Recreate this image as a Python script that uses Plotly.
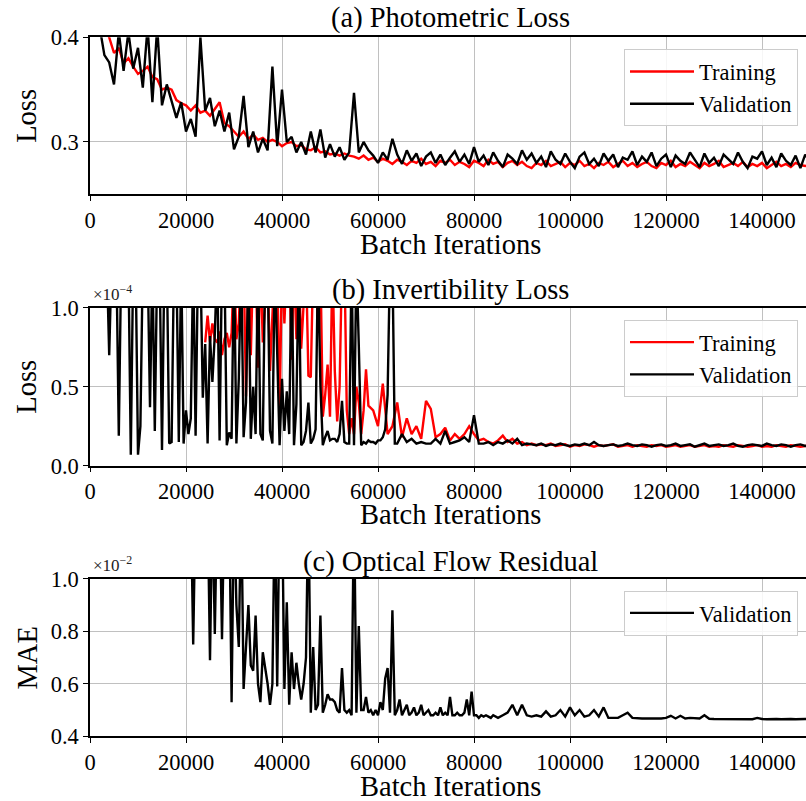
import plotly.graph_objects as go

# ---------------- data ----------------
STEP = 1000
ITER_TICKS = [0, 20000, 40000, 60000, 80000, 100000, 120000, 140000]
ITER_TICK_TEXT = [str(v) for v in ITER_TICKS]

# (a) Photometric loss
photo_val_start = 2000
photo_val = [
    0.41, 0.383, 0.376, 0.355, 0.405, 0.368, 0.405, 0.37, 0.39, 0.352,
    0.41, 0.338, 0.41, 0.335, 0.355, 0.34, 0.323, 0.338, 0.31, 0.322,
    0.305, 0.40, 0.33, 0.342, 0.315, 0.33, 0.31, 0.328, 0.293, 0.305,
    0.344, 0.295, 0.31, 0.29, 0.303, 0.292, 0.372, 0.296, 0.35, 0.30,
    0.305, 0.29, 0.30, 0.288, 0.31, 0.29, 0.312, 0.285, 0.298, 0.286,
    0.295, 0.283, 0.29, 0.347, 0.29, 0.30, 0.292, 0.287, 0.28, 0.29,
    0.283, 0.303,
    0.288, 0.279, 0.292, 0.282, 0.289, 0.277, 0.286, 0.29, 0.28, 0.288,
    0.278, 0.285, 0.291, 0.281, 0.288, 0.279, 0.295, 0.281, 0.287, 0.278,
    0.29, 0.282, 0.276, 0.288, 0.284, 0.279, 0.292, 0.283, 0.289, 0.28,
    0.286, 0.276, 0.291, 0.283, 0.279, 0.289, 0.281, 0.275, 0.286, 0.29,
    0.279, 0.284, 0.277, 0.289, 0.282, 0.288, 0.276, 0.285, 0.283, 0.291,
    0.278, 0.286, 0.281, 0.29, 0.277, 0.284, 0.288, 0.276, 0.287, 0.282,
    0.279, 0.29, 0.283, 0.276, 0.289, 0.28, 0.285, 0.277, 0.288, 0.283,
    0.279, 0.29, 0.281, 0.275, 0.286, 0.284, 0.291, 0.278, 0.285, 0.276,
    0.289, 0.282, 0.278, 0.287, 0.275, 0.288, 0.281,
]
photo_train_start = 3000
photo_train = [
    0.41, 0.40, 0.385, 0.39, 0.375, 0.38, 0.372, 0.365, 0.368, 0.372,
    0.362, 0.36, 0.35, 0.352, 0.35, 0.34, 0.337, 0.335, 0.33, 0.335,
    0.328, 0.33, 0.325, 0.332, 0.338, 0.318, 0.315, 0.31, 0.305, 0.31,
    0.303, 0.307, 0.302, 0.304, 0.3, 0.302, 0.3, 0.296, 0.299, 0.3,
    0.296, 0.297, 0.293, 0.292, 0.295, 0.29, 0.291, 0.288, 0.289, 0.287,
    0.289, 0.287, 0.286,
    0.284, 0.287, 0.283, 0.285, 0.281, 0.284, 0.282, 0.279, 0.283, 0.281,
    0.278, 0.282, 0.28, 0.284, 0.279, 0.281, 0.277, 0.282, 0.28, 0.283,
    0.278, 0.281, 0.279, 0.276, 0.282, 0.28, 0.277, 0.283, 0.279, 0.281,
    0.276, 0.28, 0.282, 0.278, 0.281, 0.277, 0.275, 0.28, 0.278, 0.282,
    0.277, 0.279, 0.281, 0.276, 0.28, 0.278, 0.282, 0.277, 0.279, 0.275,
    0.28, 0.278, 0.281, 0.276, 0.279, 0.282, 0.277, 0.28, 0.276, 0.279,
    0.281, 0.277, 0.275, 0.28, 0.278, 0.282, 0.276, 0.279, 0.277, 0.281,
    0.278, 0.275, 0.28, 0.277, 0.279, 0.282, 0.276, 0.278, 0.28, 0.277,
    0.281, 0.276, 0.279, 0.277, 0.28, 0.275, 0.278, 0.281, 0.277, 0.279,
    0.276, 0.28, 0.278, 0.277, 0.279,
]

# (b) Invertibility loss (x 1e-4): dense early part every 500, then every 1000
inv_val_early_start, inv_val_early_step = 3500, 500
inv_val_early = [
    1.3, 0.70, 1.3, 1.3, 1.3, 0.19, 1.3, 1.3, 1.3, 1.3,      # 3500-8000
    0.07, 1.3, 1.3, 0.07, 0.25, 1.3, 1.3, 1.3, 0.37, 1.3,    # 8500-13000
    0.22, 1.3, 1.3, 0.10, 1.3, 1.3, 0.14, 0.15, 1.3, 1.3,    # 13500-18000
    0.15, 1.3, 0.14, 0.35, 0.20, 0.30, 1.3, 0.19, 1.3, 1.3,  # 18500-23000
    0.43, 0.77, 0.14, 0.82, 0.53, 0.83, 1.3, 0.16, 1.3, 1.3,  # 23500-28000
    0.13, 0.21, 0.17, 1.3, 0.14, 0.55, 1.3, 0.18, 0.40, 1.3,  # 28500-33000
    0.17, 0.50, 0.20, 1.3, 0.20, 0.16, 1.3, 1.3, 0.22, 0.14,  # 33500-38000
    1.3, 0.74, 0.13, 0.55, 0.22, 0.47, 0.20, 1.3, 0.13, 0.39,  # 38500-43000
    1.3, 0.13, 0.15, 0.22, 0.40, 0.14, 0.17, 0.23, 1.3,        # 43500-47500
    0.51, 0.13, 0.18, 0.22, 0.16, 0.17, 0.17, 0.15, 0.20, 0.41,  # 48000-52500
    0.15, 0.14, 0.14, 1.3, 0.13, 1.3, 0.76, 0.13, 0.15, 0.14,    # 53000-57500
    0.16, 0.15, 0.15, 0.14, 0.16, 0.16, 0.18, 0.23, 0.45, 1.3,   # 58000-62500
    1.3, 0.14,                                                   # 63000-63500
]
inv_val_late_start = 64000
inv_val_late = [
    0.14, 0.20, 0.15, 0.17, 0.14, 0.15, 0.14, 0.14, 0.17, 0.14,
    0.22, 0.14, 0.15, 0.16, 0.18, 0.15, 0.32, 0.14, 0.14, 0.15,
    0.13, 0.15, 0.14, 0.16, 0.14, 0.17, 0.13, 0.14, 0.135,
    0.13, 0.14, 0.125, 0.135, 0.13, 0.14, 0.13, 0.125, 0.135, 0.13,
    0.14, 0.13, 0.15, 0.13, 0.125, 0.13, 0.135, 0.125, 0.13, 0.14,
    0.13, 0.125, 0.135, 0.13, 0.12, 0.13, 0.135, 0.125, 0.13, 0.14,
    0.125, 0.13, 0.135, 0.12, 0.13, 0.14, 0.125, 0.13, 0.135, 0.125,
    0.13, 0.14, 0.125, 0.12, 0.13, 0.135, 0.13, 0.125, 0.14, 0.13,
    0.125, 0.135, 0.13, 0.12, 0.13, 0.135, 0.125, 0.13,
]
inv_train_early_start, inv_train_early_step = 24000, 500
inv_train_early = [
    0.78, 0.95, 0.785, 0.9, 0.8, 0.78, 0.85, 0.7, 0.8, 0.84,   # 24000-28500
    0.75, 0.84, 1.3, 0.8, 0.9, 1.3, 1.3, 0.44, 1.3, 0.7,       # 29000-33500
    1.3, 1.3, 0.62, 1.3, 0.78, 1.3, 1.3, 0.6, 1.3, 1.3,        # 34000-38500
    1.3, 0.31, 1.3, 0.9, 1.3, 1.3, 0.67, 1.3, 0.8, 1.3,        # 39000-43500
    0.74, 1.3, 1.3, 0.57, 0.56, 1.3, 1.3, 0.85,                # 44000-47500
    1.3, 0.31, 0.45, 0.64, 0.31, 1.3, 0.6, 0.28, 0.5, 1.3,     # 48000-52500
    1.3, 0.35, 0.2, 0.3, 0.2, 0.5, 0.4, 0.2, 0.35, 0.61,       # 53000-57500
]
inv_train_late_start = 58000
inv_train_late = [
    0.38, 0.35, 0.25, 0.52, 0.2, 0.25, 0.40, 0.18, 0.30, 0.2,
    0.25, 0.17, 0.41, 0.36, 0.18, 0.2, 0.24, 0.16, 0.2, 0.17,
    0.2, 0.25, 0.2, 0.16, 0.17, 0.15, 0.14, 0.16, 0.19, 0.15,
    0.17, 0.14, 0.15, 0.13, 0.14, 0.13,
    0.135, 0.13, 0.14, 0.125, 0.13, 0.135, 0.12, 0.13, 0.125, 0.135,
    0.13, 0.12, 0.13, 0.125, 0.13, 0.135, 0.12, 0.125, 0.13, 0.12,
    0.13, 0.125, 0.12, 0.13, 0.125, 0.13, 0.12, 0.125, 0.13, 0.12,
    0.125, 0.13, 0.12, 0.125, 0.13, 0.12, 0.125, 0.12, 0.13, 0.125,
    0.12, 0.13, 0.125, 0.12, 0.125, 0.13, 0.12, 0.125, 0.12, 0.13,
    0.125, 0.12, 0.13, 0.125, 0.12, 0.125, 0.12,
]

# (c) Optical flow residual MAE (x 1e-2)
flow_early_start, flow_early_step = 21000, 500
flow_early = [
    1.3, 0.75, 1.3, 1.2, 1.2, 1.2, 1.2, 1.3, 0.69, 1.3,
    0.79, 1.3, 1.3, 0.77, 1.3, 1.2, 1.3, 0.53, 1.3, 0.9,
    0.74, 1.3, 0.58, 0.75, 0.9, 0.67, 0.65, 0.86, 0.6, 0.53,
    0.72, 0.66, 0.6, 0.52, 0.6, 1.3, 0.59, 1.3, 1.3, 0.58,
    0.91, 0.52, 0.72, 0.58, 0.68, 0.6, 0.54, 0.6, 0.7, 1.3,
    0.49, 0.74, 0.5, 0.52, 0.86, 0.49, 0.52, 0.56, 0.54, 0.54,
    0.53, 0.5, 0.49, 0.66, 0.5, 0.49, 0.5, 0.48, 1.3, 0.49,
    0.82, 0.5, 0.5, 0.55, 0.49, 0.5, 0.48, 0.5, 0.48, 0.53,
    0.5, 0.62, 0.66, 0.49, 0.88, 0.48, 0.5, 0.54, 0.48, 0.5,
    0.52, 0.48, 0.49, 0.51, 0.48, 0.49, 0.52, 0.48, 0.49, 0.5,
    0.48, 0.48, 0.49, 0.48, 0.51, 0.48, 0.49, 0.48, 0.55, 0.48,
    0.48, 0.49, 0.48, 0.48, 0.49, 0.54, 0.48, 0.57, 0.48, 0.48,
    0.47, 0.48, 0.475, 0.48, 0.475, 0.47, 0.48, 0.475, 0.47,
]
flow_late_start, flow_late_step = 86000, 1000
flow_late = [
    0.48, 0.49, 0.52, 0.48, 0.52, 0.48, 0.475, 0.48, 0.475, 0.495,
    0.475, 0.48, 0.5, 0.475, 0.51, 0.48, 0.5, 0.475, 0.48, 0.5,
    0.475, 0.51, 0.47, 0.47, 0.47, 0.48, 0.49, 0.47, 0.468, 0.468,
    0.468, 0.467, 0.468, 0.468, 0.47, 0.478, 0.468, 0.478, 0.468, 0.47,
    0.468, 0.468, 0.48, 0.467, 0.466,
    0.466, 0.465, 0.466, 0.466, 0.465, 0.466, 0.466, 0.465, 0.47, 0.466,
    0.465, 0.466, 0.466, 0.465, 0.466, 0.466, 0.465, 0.466, 0.466, 0.465,
]


def iters(start, step, n):
    return [start + i * step for i in range(n)]


# ---------------- layout geometry ----------------
W, H = 806, 801
FONT = "Liberation Serif"
TICK_SIZE = 22.5
TITLE_SIZE = 28.5
X_LEFT_PX = 90
X_MAX = (W - X_LEFT_PX) / 720 * 150000

boxes = [(37.3, 194.3), (307.7, 465.7), (578.7, 736.3)]  # (top, bottom) px


def ydom(top, bottom):
    return [1 - bottom / H, 1 - top / H]


def px_x(p):
    return p / W


def px_y(p):
    return 1 - p / H


fig = go.Figure()

RED, BLACK = "#ff0000", "#000000"
LW = 2.4


def add_line(x, y, color, name, idx):
    sfx = "" if idx == 0 else str(idx + 1)
    fig.add_trace(go.Scatter(x=x, y=y, mode="lines", line=dict(color=color, width=LW),
                             name=name, xaxis="x" + sfx, yaxis="y" + sfx,
                             legend="legend" + sfx))


add_line(iters(photo_train_start, STEP, len(photo_train)), photo_train, RED, "Training", 0)
add_line(iters(photo_val_start, STEP, len(photo_val)), photo_val, BLACK, "Validation", 0)

inv_train_x = iters(inv_train_early_start, inv_train_early_step, len(inv_train_early)) + \
    iters(inv_train_late_start, STEP, len(inv_train_late))
inv_val_x = iters(inv_val_early_start, inv_val_early_step, len(inv_val_early)) + \
    iters(inv_val_late_start, STEP, len(inv_val_late))
add_line(inv_train_x, inv_train_early + inv_train_late, RED, "Training", 1)
add_line(inv_val_x, inv_val_early + inv_val_late, BLACK, "Validation", 1)

flow_x = iters(flow_early_start, flow_early_step, len(flow_early)) + \
    iters(flow_late_start, flow_late_step, len(flow_late))
add_line(flow_x, flow_early + flow_late, BLACK, "Validation", 2)

axis_common = dict(
    showline=True, linecolor="black", linewidth=1.5,
    showgrid=True, gridcolor="#c0c0c0", gridwidth=1,
    zeroline=False, ticks="outside", ticklen=5, tickwidth=1.2, tickcolor="black",
    tickfont=dict(family=FONT, size=TICK_SIZE, color="black"),
    automargin=False,
)

yticks = [
    ([0.3, 0.4], ["0.3", "0.4"], [0.25, 0.4]),
    ([0.0, 0.5, 1.0], ["0.0", "0.5", "1.0"], [0, 1.0]),
    ([0.4, 0.6, 0.8, 1.0], ["0.4", "0.6", "0.8", "1.0"], [0.4, 1.0]),
]

layout = dict(template="none", width=W, height=H,
              margin=dict(l=0, r=0, t=0, b=0, pad=0, autoexpand=False),
              font=dict(family=FONT, size=TICK_SIZE, color="black"),
              paper_bgcolor="white", plot_bgcolor="white", showlegend=True)

for i, ((top, bot), (tv, tt, rng)) in enumerate(zip(boxes, yticks)):
    sfx = "" if i == 0 else str(i + 1)
    layout["xaxis" + sfx] = dict(axis_common, domain=[X_LEFT_PX / W, 1.0], range=[0, X_MAX],
                                 tickmode="array", tickvals=ITER_TICKS, ticktext=ITER_TICK_TEXT,
                                 mirror=True, anchor="y" + sfx)
    layout["yaxis" + sfx] = dict(axis_common, domain=ydom(top, bot), range=rng,
                                 tickmode="array", tickvals=tv, ticktext=tt,
                                 mirror=False, anchor="x" + sfx)

leg_common = dict(font=dict(family=FONT, size=TICK_SIZE, color="black"),
                  bgcolor="rgba(255,255,255,0.85)", bordercolor="#cccccc", borderwidth=1,
                  xanchor="right", yanchor="top", x=px_x(798), itemwidth=64,
                  tracegroupgap=0)
layout["legend"] = dict(leg_common, y=px_y(49.3))
layout["legend2"] = dict(leg_common, y=px_y(320))
layout["legend3"] = dict(leg_common, y=px_y(590.7))

ann = []
titles = ["(a) Photometric Loss", "(b) Invertibility Loss", "(c) Optical Flow Residual"]
title_y = [18, 290, 562]
xlab_y = [244, 514, 786]
ylab = ["Loss", "Loss", "MAE"]
for i in range(3):
    ann.append(dict(text=titles[i], x=px_x(450), y=px_y(title_y[i]), xref="paper", yref="paper",
                    xanchor="center", yanchor="middle", showarrow=False,
                    font=dict(family=FONT, size=TITLE_SIZE, color="black")))
    ann.append(dict(text="Batch Iterations", x=px_x(450), y=px_y(xlab_y[i]), xref="paper",
                    yref="paper", xanchor="center", yanchor="middle", showarrow=False,
                    font=dict(family=FONT, size=TITLE_SIZE, color="black")))
    top, bot = boxes[i]
    ann.append(dict(text=ylab[i], x=px_x(27), y=px_y((top + bot) / 2), xref="paper", yref="paper",
                    xanchor="center", yanchor="middle", showarrow=False, textangle=-90,
                    font=dict(family=FONT, size=TITLE_SIZE, color="black")))

for txt, ypx in [("×10<sup>−4</sup>", 306), ("×10<sup>−2</sup>", 577)]:
    ann.append(dict(text=txt, x=px_x(91), y=px_y(ypx), xref="paper", yref="paper",
                    xanchor="left", yanchor="bottom", showarrow=False,
                    font=dict(family=FONT, size=17, color="#222222")))

layout["annotations"] = ann
fig.update_layout(**layout)
fig.write_html("out.html")
